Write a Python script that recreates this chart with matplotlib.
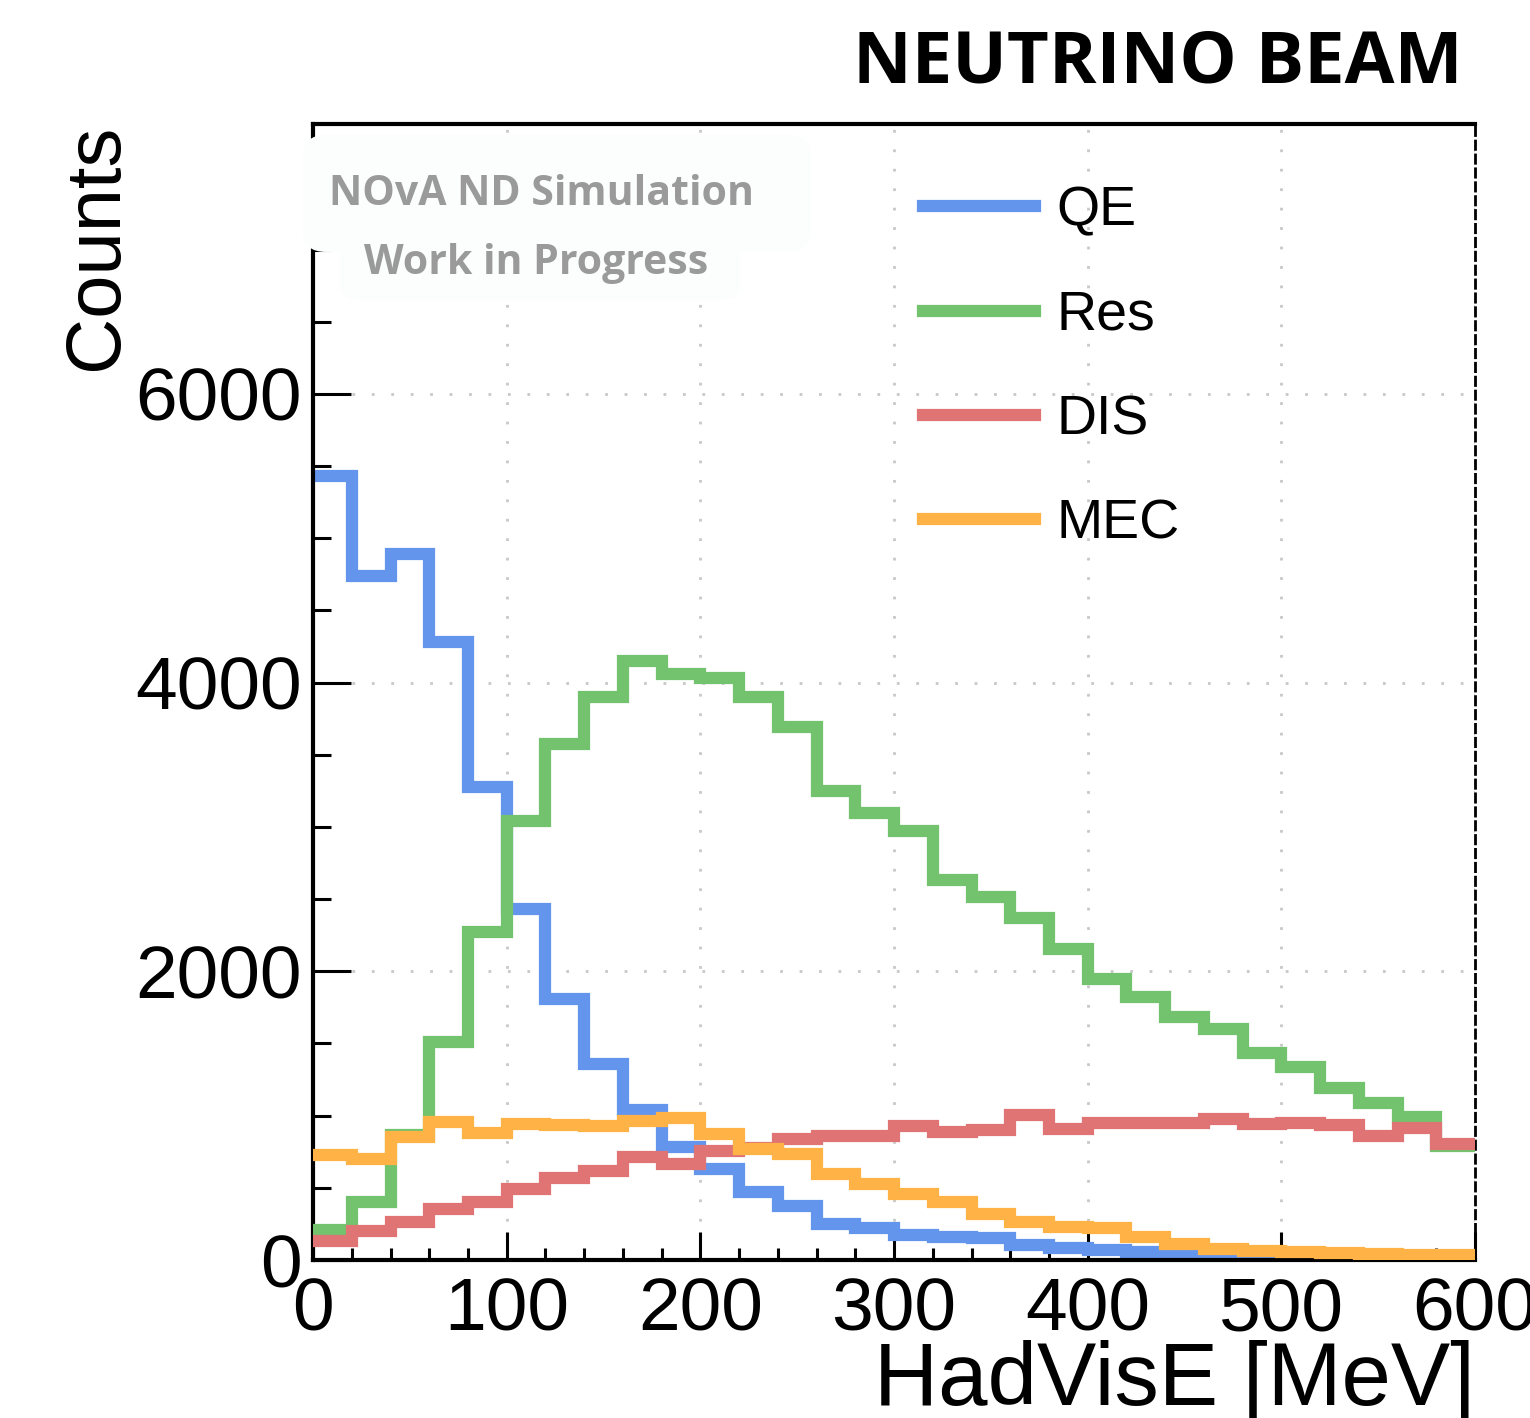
import numpy as np
import matplotlib.pyplot as plt
from matplotlib.ticker import MultipleLocator
from matplotlib.patches import FancyBboxPatch

# 20 MeV bins from 0 to 600 MeV
edges = np.arange(0, 620, 20)

qe = [5430, 4740, 4890, 4280, 3280, 2430, 1810, 1360, 1040, 785,
      630, 469, 376, 249, 220, 173, 162, 150, 104, 80,
      70, 55, 40, 25, 12, 6, 4, 3, 2, 1]
res = [205, 404, 866, 1509, 2271, 3044, 3576, 3900, 4153, 4061,
       4031, 3900, 3692, 3246, 3096, 2975, 2631, 2513, 2368, 2155,
       1947, 1820, 1686, 1601, 1432, 1335, 1190, 1090, 993, 790]
dis = [134, 201, 265, 353, 404, 492, 566, 619, 712, 665,
       758, 775, 835, 861, 861, 931, 889, 901, 1005, 908,
       951, 951, 951, 977, 942, 950, 935, 861, 915, 806]
mec = [728, 698, 850, 958, 878, 942, 935, 928, 963, 982,
       876, 769, 736, 596, 527, 457, 400, 321, 263, 230,
       222, 157, 111, 76, 60, 53, 47, 40, 36, 32]

labels = ["QE", "Res", "DIS", "MEC"]
colors = ["#6495ed", "#73c36e", "#e07373", "#ffb347"]
zorders = [2, 3, 4, 5]

plt.rcParams['font.family'] = ['Liberation Sans', 'DejaVu Sans']

fig = plt.figure(figsize=(15.3, 14.18), dpi=100)
ax = fig.add_axes([0.2046, 0.1114, 0.7595, 0.8012])

lw = 8.8
for vals, lab, col, z in zip([qe, res, dis, mec], labels, colors, zorders):
    ax.stairs(vals, edges, color=col, linewidth=lw, label=lab, zorder=z,
              baseline=None)

ax.set_xlim(0, 600)
ax.set_ylim(0, 7870)

ax.xaxis.set_major_locator(MultipleLocator(100))
ax.xaxis.set_minor_locator(MultipleLocator(20))
ax.yaxis.set_major_locator(MultipleLocator(2000))
ax.yaxis.set_minor_locator(MultipleLocator(500))

ax.tick_params(axis='both', which='both', direction='in', width=2.2, colors='black')
ax.tick_params(axis='x', which='major', length=20, pad=12, labelsize=54)
ax.tick_params(axis='x', which='minor', length=9)
ax.tick_params(axis='y', which='major', length=27, pad=8, labelsize=54)
ax.tick_params(axis='y', which='minor', length=13)

ax.grid(True, which='major', linestyle=(0, (1, 6)), color='#c8c8c8', linewidth=2)
ax.set_axisbelow(True)

for side in ['left', 'bottom', 'top']:
    ax.spines[side].set_linewidth(3)
ax.spines['right'].set_linestyle((0, (3, 2)))
ax.spines['right'].set_linewidth(2)

ax.set_xlabel("HadVisE [MeV]", loc='right', fontsize=64, labelpad=-4)
ax.set_ylabel("Counts", loc='top', fontsize=56, labelpad=2)

ax.legend(handles=[plt.Line2D([], [], color=c, linewidth=lw) for c in colors],
          labels=labels, loc='upper left', bbox_to_anchor=(0.4823, 0.9896),
          frameon=False, fontsize=40, handlelength=2.0, handletextpad=0.4,
          labelspacing=0.94)

# watermark boxes
box1 = FancyBboxPatch((0.198, 0.8223), 0.332, 0.0825,
                      boxstyle="round,pad=0,rounding_size=0.015",
                      transform=fig.transFigure, facecolor='#fcfefe', edgecolor='none',
                      zorder=10)
box2 = FancyBboxPatch((0.222, 0.7884), 0.262, 0.045,
                      boxstyle="round,pad=0,rounding_size=0.012",
                      transform=fig.transFigure, facecolor='#fcfefe', edgecolor='none',
                      zorder=10)
fig.patches.extend([box1, box2])
fig.text(0.3536, 0.8625, "NOvA ND Simulation", ha='center', va='center',
         fontsize=29.5, fontweight='bold', color='#9a9a9a', family='Open Sans', zorder=11)
fig.text(0.3503, 0.8145, "Work in Progress", ha='center', va='center',
         fontsize=29.5, fontweight='bold', color='#9a9a9a', family='Open Sans', zorder=11)

fig.text(0.757, 0.955, "NEUTRINO BEAM", ha='center', va='center',
         fontsize=52, fontweight='bold', family='Open Sans', color='black')

fig.savefig("out.png", dpi=100)
